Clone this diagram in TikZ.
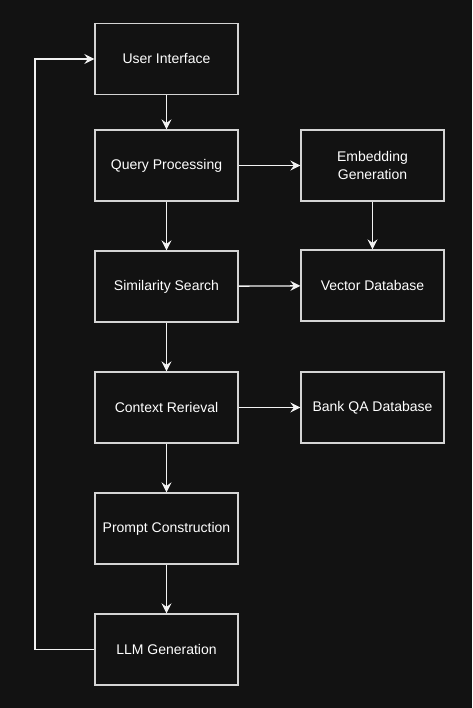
\documentclass[tikz,border=0pt]{standalone}
\usepackage{fontspec}
\setmainfont{Liberation Sans}
\usepackage{xcolor}
\usetikzlibrary{arrows.meta, positioning}
\definecolor{bgdark}{HTML}{121212}
\definecolor{boxline}{HTML}{D4D4D4}
\definecolor{arrowwhite}{HTML}{F2F2F2}

\begin{document}
\begin{tikzpicture}[
  x=1pt, y=-1pt,
  stage/.style={rectangle, draw=boxline, fill=bgdark, line width=1.3pt, minimum width=143pt, minimum height=71pt, inner sep=2pt, text=white, align=center, font=\fontsize{14}{18.5}\selectfont},
  flow/.style={-{Stealth[length=10pt, width=10pt, inset=3.5pt]}, draw=arrowwhite, line width=1.3pt}
]
  \fill[bgdark] (0, 0) rectangle (472, 708);

  % Main pipeline
  \node[stage] (ui)     at (166.5, 59)    {User Interface};
  \node[stage] (query)  at (166.5, 165.5) {Query Processing};
  \node[stage] (search) at (166.5, 286.5) {Similarity Search};
  \node[stage] (ctx)    at (166.5, 407.5) {Context Rerieval};
  \node[stage] (prompt) at (166.5, 528.5) {Prompt Construction};
  \node[stage] (llm)    at (166.5, 649.5) {LLM Generation};

  % Side stores
  \node[stage] (embed)  at (372.5, 165.5) {Embedding\\Generation};
  \node[stage] (vecdb)  at (372.5, 285.5) {Vector Database};
  \node[stage] (qadb)   at (372.5, 407.5) {Bank QA Database};

  \draw[flow] (ui) -- (query);
  \draw[flow] (query) -- (search);
  \draw[flow] (search) -- (ctx);
  \draw[flow] (ctx) -- (prompt);
  \draw[flow] (prompt) -- (llm);

  \draw[flow] (query) -- (embed);
  \draw[flow] (embed) -- (vecdb);
  \draw[flow] (search) -- (vecdb);
  \draw[flow] (ctx) -- (qadb);

  % Feedback loop
  \coordinate (loopcorner) at (35, 649.5);
  \draw[flow] (llm.west) -- (loopcorner) |- (ui.west);
\end{tikzpicture}
\end{document}
